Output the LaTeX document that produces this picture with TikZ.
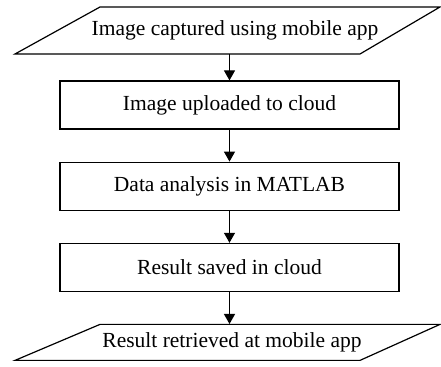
\documentclass[tikz,border=0pt]{standalone}
\usepackage{fontspec}
\setmainfont{Liberation Serif}
\usepackage{tikz}
\usetikzlibrary{arrows.meta,positioning}
\tikzset{
  stepbox/.style={rectangle, draw, line width=0.6pt, align=center,
              minimum width=169.5pt, minimum height=24pt, inner sep=2pt},
  inout/.style={rectangle, align=center, inner sep=1pt},
  outline/.style={line width=0.6pt, line join=miter},
  flow/.style={-{Triangle[length=5pt,width=5.5pt]}, line width=0.6pt},
}
\begin{document}
\begin{tikzpicture}[node distance=16pt, every node/.style={font=\fontsize{10.75pt}{13pt}\selectfont}]
  \useasboundingbox (0,0) rectangle (220.5pt,-183.5pt);
  \node[inout, minimum height=23.5pt] (capture) at (117.5pt,-15.25pt) {Image captured using mobile app};
  \node[stepbox, below=13pt of capture, xshift=-2.75pt] (upload) {Image uploaded to cloud};
  \node[stepbox, below=of upload] (analysis) {Data analysis in MATLAB};
  \node[stepbox, below=of analysis] (saved) {Result saved in cloud};
  \node[inout, below=of saved, xshift=1.25pt, minimum height=18pt] (retrieve) {Result retrieved at mobile app};
  \draw[outline] ([shift={(-67.5pt,11.75pt)}]capture.center) -- ([shift={(102.5pt,11.75pt)}]capture.center)
    -- ([shift={(62.5pt,-11.75pt)}]capture.center) -- ([shift={(-110pt,-11.75pt)}]capture.center) -- cycle;
  \draw[outline] ([shift={(-66pt,9pt)}]retrieve.center) -- ([shift={(104pt,9pt)}]retrieve.center)
    -- ([shift={(64pt,-9pt)}]retrieve.center) -- ([shift={(-108.5pt,-9pt)}]retrieve.center) -- cycle;
  \draw[flow] (capture.south -| upload.north) -- (upload);
  \draw[flow] (upload)--(analysis);
  \draw[flow] (analysis)--(saved);
  \draw[flow] (saved) -- (saved.south |- retrieve.north);
\end{tikzpicture}
\end{document}
